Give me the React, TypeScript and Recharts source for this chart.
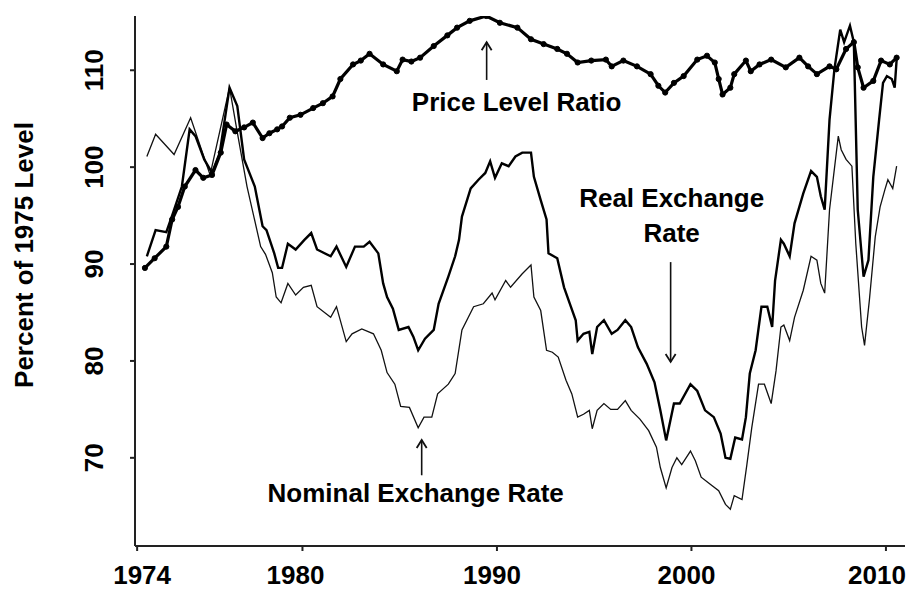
import React from "react";
import { LineChart, Line, XAxis, YAxis, ReferenceLine } from "recharts";

// values (1975 = 100)
const nominalRate: [number, number][] = [
  [1972.0, 101.1], [1972.45, 103.4], [1973.4, 101.3], [1974.25, 105.1], [1975.25, 99.2],
  [1976.25, 108.2], [1976.65, 103.6], [1977.15, 98.0], [1977.85, 91.8], [1978.1, 91.0],
  [1978.45, 89.1], [1978.65, 86.6], [1978.9, 86.0], [1979.25, 88.0], [1979.65, 86.8],
  [1980.05, 87.6], [1980.45, 87.8], [1980.75, 85.6], [1981.45, 84.5], [1981.75, 85.6],
  [1982.25, 82.0], [1982.55, 82.8], [1983.05, 83.3], [1983.65, 82.8], [1984.05, 81.1],
  [1984.35, 78.8], [1984.75, 77.6], [1985.05, 75.3], [1985.5, 75.2], [1985.95, 73.1],
  [1986.25, 74.2], [1986.65, 74.2], [1986.95, 76.6], [1987.5, 77.6], [1987.85, 78.7],
  [1988.2, 83.2], [1988.8, 85.6], [1989.3, 85.9], [1989.75, 87.0], [1989.9, 86.3],
  [1990.45, 88.3], [1990.7, 87.6], [1991.3, 89.0], [1991.75, 89.9], [1991.9, 86.6],
  [1992.25, 85.2], [1992.55, 81.1], [1992.85, 80.9], [1993.15, 80.4], [1993.55, 78.0],
  [1993.85, 76.6], [1994.15, 74.2], [1994.45, 74.5], [1994.75, 74.9], [1994.9, 73.0],
  [1995.15, 74.9], [1995.5, 75.6], [1995.85, 75.0], [1996.2, 75.0], [1996.6, 75.9],
  [1996.9, 74.9], [1997.35, 74.0], [1997.8, 72.8], [1998.2, 71.1], [1998.4, 69.0],
  [1998.7, 66.9], [1999.0, 69.0], [1999.25, 70.0], [1999.5, 69.3], [1999.95, 70.7],
  [2000.2, 69.7], [2000.5, 68.0], [2000.95, 67.3], [2001.4, 66.6], [2001.75, 65.2],
  [2002.0, 64.7], [2002.2, 66.1], [2002.6, 65.7], [2002.85, 69.3], [2003.1, 73.1],
  [2003.45, 77.6], [2003.75, 77.6], [2004.1, 75.6], [2004.35, 79.0], [2004.6, 83.5],
  [2004.75, 83.7], [2005.05, 82.1], [2005.3, 84.5], [2005.75, 87.3], [2006.15, 90.8],
  [2006.45, 90.4], [2006.65, 88.0], [2006.85, 87.0], [2007.1, 95.6], [2007.55, 103.2],
  [2007.7, 101.8], [2007.95, 100.8], [2008.25, 100.1], [2008.45, 92.1], [2008.75, 83.5],
  [2008.9, 81.6], [2009.15, 86.3], [2009.45, 92.8], [2009.7, 95.9], [2009.95, 97.7],
  [2010.1, 98.7], [2010.35, 97.8], [2010.55, 100.1],
];

const realRate: [number, number][] = [
  [1972.0, 90.8], [1972.45, 93.5], [1973.0, 93.3], [1973.35, 95.3], [1973.8, 98.0],
  [1974.2, 103.9], [1974.5, 103.2], [1974.95, 100.8], [1975.35, 99.4], [1975.75, 101.5],
  [1976.25, 108.2], [1976.65, 106.3], [1977.0, 100.8], [1977.55, 98.0], [1977.95, 93.9],
  [1978.15, 93.5], [1978.55, 91.1], [1978.75, 89.6], [1978.95, 89.6], [1979.25, 92.1],
  [1979.65, 91.5], [1980.1, 92.5], [1980.45, 93.2], [1980.75, 91.5], [1981.45, 90.8],
  [1981.75, 91.8], [1982.25, 89.7], [1982.7, 91.8], [1983.15, 91.8], [1983.45, 92.3],
  [1983.9, 91.1], [1984.15, 88.0], [1984.35, 86.6], [1984.65, 85.4], [1984.95, 83.2],
  [1985.45, 83.5], [1985.7, 82.5], [1985.95, 81.1], [1986.3, 82.3], [1986.75, 83.2],
  [1987.0, 85.9], [1987.5, 88.7], [1987.85, 90.8], [1988.05, 92.5], [1988.2, 94.9],
  [1988.65, 97.8], [1989.05, 98.7], [1989.4, 99.4], [1989.65, 100.6], [1989.9, 98.9],
  [1990.25, 100.4], [1990.6, 100.1], [1990.95, 101.1], [1991.3, 101.5], [1991.75, 101.5],
  [1991.9, 99.0], [1992.25, 96.6], [1992.55, 94.6], [1992.65, 91.1], [1993.1, 90.6],
  [1993.45, 87.6], [1993.8, 85.6], [1994.05, 84.2], [1994.15, 82.1], [1994.45, 82.8],
  [1994.75, 83.0], [1994.9, 80.7], [1995.15, 83.5], [1995.5, 84.2], [1995.9, 82.8],
  [1996.2, 83.2], [1996.6, 84.2], [1996.9, 83.5], [1997.25, 81.4], [1997.7, 79.7],
  [1998.1, 77.8], [1998.4, 74.9], [1998.7, 71.8], [1999.1, 75.6], [1999.4, 75.6],
  [1999.95, 77.6], [2000.3, 76.9], [2000.7, 74.9], [2001.15, 74.2], [2001.5, 72.5],
  [2001.75, 70.0], [2002.0, 69.9], [2002.25, 72.1], [2002.6, 71.9], [2002.8, 74.2],
  [2003.0, 78.7], [2003.3, 81.1], [2003.6, 85.6], [2003.9, 85.6], [2004.15, 83.5],
  [2004.3, 88.3], [2004.6, 92.5], [2004.75, 92.1], [2005.05, 90.8], [2005.3, 94.2],
  [2005.75, 97.3], [2006.15, 99.6], [2006.45, 99.0], [2006.65, 97.0], [2006.85, 95.6],
  [2007.1, 104.9], [2007.35, 110.1], [2007.65, 114.2], [2007.85, 112.9], [2008.15, 114.6],
  [2008.35, 112.9], [2008.55, 95.6], [2008.85, 88.7], [2009.1, 90.4], [2009.35, 99.0],
  [2009.65, 104.9], [2009.85, 108.7], [2010.05, 109.4], [2010.3, 109.1], [2010.45, 108.2],
  [2010.55, 111.1],
];

const priceRatio: [number, number][] = [
  [1971.9, 89.6], [1972.4, 90.6], [1973.0, 91.8], [1973.3, 94.6], [1973.6, 95.9],
  [1973.95, 98.0], [1974.5, 99.7], [1974.9, 98.9], [1975.35, 99.2], [1975.8, 101.5],
  [1976.1, 104.4], [1976.55, 103.7], [1977.0, 104.1], [1977.45, 104.6], [1977.95, 103.0],
  [1978.3, 103.5], [1978.7, 103.9], [1978.95, 104.2], [1979.35, 105.1], [1979.9, 105.4],
  [1980.55, 106.1], [1981.05, 106.6], [1981.55, 107.3], [1981.95, 109.1], [1982.6, 110.6],
  [1983.0, 111.0], [1983.45, 111.7], [1984.15, 110.6], [1984.85, 109.9], [1985.15, 111.1],
  [1985.6, 110.9], [1986.05, 111.3], [1986.75, 112.5], [1987.45, 113.6], [1987.95, 114.4],
  [1988.6, 115.1], [1989.45, 115.6], [1990.15, 114.9], [1991.05, 114.4], [1991.75, 113.2],
  [1992.4, 112.7], [1993.1, 112.2], [1993.6, 111.7], [1994.15, 110.8], [1994.85, 111.0],
  [1995.6, 111.1], [1995.9, 110.4], [1996.5, 111.0], [1997.2, 110.4], [1997.9, 109.6],
  [1998.3, 108.4], [1998.65, 107.7], [1999.1, 108.7], [1999.6, 109.4], [2000.3, 111.1],
  [2000.8, 111.5], [2001.2, 110.8], [2001.4, 109.1], [2001.6, 107.5], [2002.0, 108.2],
  [2002.2, 109.6], [2002.8, 111.0], [2003.05, 109.9], [2003.5, 110.6], [2004.1, 111.1],
  [2004.85, 110.3], [2005.55, 111.3], [2006.0, 110.4], [2006.45, 109.6], [2007.1, 110.4],
  [2007.45, 110.1], [2007.95, 112.2], [2008.35, 112.9], [2008.55, 110.3], [2008.85, 108.2],
  [2009.35, 108.9], [2009.75, 111.0], [2010.2, 110.6], [2010.55, 111.3],
];

const xTickValues = [1971.5, 1980, 1990, 2000, 2010];
const xTickLabels = ["1974", "1980", "1990", "2000", "2010"];
const yTickValues = [70, 80, 90, 100, 110];
const yTitle = "Percent of 1975 Level";

// annotation arrows: x position, tail value, head value, text lines
const annotationX = [1989.47, 1998.93, 1986.13];
const annotationFrom = [109.0, 90.2, 68.2];
const annotationTo = [112.9, 79.9, 71.85];
const annotationLines = [["Price Level Ratio"], ["Real Exchange", "Rate"], ["Nominal Exchange Rate"]];
// pixel offsets of the text from the arrow tail
const annotationOffset = [
  { dx: 30, dy: 31 },
  { dx: 1, dy: -55 },
  { dx: -6, dy: 27 },
];
// the printed labels sit a little off their tick marks
const xTickShift = [5, -7, -5, -5, -9];

const FONT = "'Liberation Sans', Arial, sans-serif";
const toPoints = (rows: [number, number][]) => rows.map(([year, value]) => ({ year, value }));

function XTick({ x, y, payload }: any) {
  const i = xTickValues.indexOf(payload.value);
  return (
    <text
      x={x + (xTickShift[i] ?? 0)}
      y={y + 33}
      textAnchor="middle"
      fontFamily={FONT}
      fontWeight="bold"
      fontSize={26}
      fill="#000"
    >
      {xTickLabels[i]}
    </text>
  );
}

function YTick({ x, y, payload }: any) {
  return (
    <text
      transform={`translate(${x - 27}, ${y}) rotate(-90)`}
      textAnchor="middle"
      fontFamily={FONT}
      fontWeight="bold"
      fontSize={26}
      fill="#000"
    >
      {payload.value}
    </text>
  );
}

function YTitle({ viewBox }: any) {
  const cy = viewBox.y + viewBox.height / 2 - 26;
  return (
    <text
      transform={`translate(${viewBox.x + 33}, ${cy}) rotate(-90)`}
      textAnchor="middle"
      fontFamily={FONT}
      fontWeight="bold"
      fontSize={26}
      fill="#000"
    >
      {yTitle}
    </text>
  );
}

function renderArrow(p: any, i: number) {
  const { x1, y1, x2, y2 } = p;
  const dir = y2 < y1 ? 1 : -1;
  const off = annotationOffset[i];
  return (
    <g>
      <line x1={x1} y1={y1} x2={x2} y2={y2} stroke="#111" strokeWidth={1.6} />
      <path
        d={`M${x2 - 5},${y2 + 8 * dir} L${x2},${y2} L${x2 + 5},${y2 + 8 * dir}`}
        fill="none"
        stroke="#111"
        strokeWidth={1.8}
      />
      {annotationLines[i].map((t, k) => (
        <text
          key={k}
          x={x1 + off.dx}
          y={y1 + off.dy + k * 35}
          textAnchor="middle"
          fontFamily={FONT}
          fontWeight="bold"
          fontSize={26}
          fill="#000"
        >
          {t}
        </text>
      ))}
    </g>
  );
}

export default function App() {
  return (
    <div style={{ position: "absolute", left: 0, top: 0, width: 911, height: 591, background: "#fff" }}>
      <LineChart width={911} height={591} margin={{ top: 16, right: 6, bottom: 0, left: 0 }}>
        <XAxis
          type="number"
          dataKey="year"
          domain={[1971.39, 2010.98]}
          allowDataOverflow
          ticks={xTickValues}
          tick={<XTick />}
          tickSize={5}
          tickMargin={0}
          height={45}
          axisLine={{ stroke: "#222", strokeWidth: 2 }}
          tickLine={{ stroke: "#222", strokeWidth: 2 }}
        />
        <YAxis
          type="number"
          domain={[60.9, 115.6]}
          allowDataOverflow
          ticks={yTickValues}
          tick={<YTick />}
          tickSize={5}
          tickMargin={0}
          width={135}
          axisLine={{ stroke: "#222", strokeWidth: 2 }}
          tickLine={{ stroke: "#222", strokeWidth: 2 }}
          label={{ content: <YTitle /> }}
        />
        <Line
          data={toPoints(nominalRate)}
          dataKey="value"
          type="linear"
          stroke="#111"
          strokeWidth={1.3}
          dot={false}
          activeDot={false}
          isAnimationActive={false}
        />
        <Line
          data={toPoints(realRate)}
          dataKey="value"
          type="linear"
          stroke="#000"
          strokeWidth={2.4}
          dot={false}
          activeDot={false}
          isAnimationActive={false}
        />
        <Line
          data={toPoints(priceRatio)}
          dataKey="value"
          type="linear"
          stroke="#000"
          strokeWidth={3.2}
          dot={{ r: 2.6, fill: "#000", stroke: "#000", strokeWidth: 1 }}
          activeDot={false}
          isAnimationActive={false}
        />
        {annotationX.map((ax, i) => (
          <ReferenceLine
            key={i}
            segment={[
              { x: ax, y: annotationFrom[i] },
              { x: ax, y: annotationTo[i] },
            ]}
            shape={(p: any) => renderArrow(p, i)}
          />
        ))}
      </LineChart>
    </div>
  );
}
